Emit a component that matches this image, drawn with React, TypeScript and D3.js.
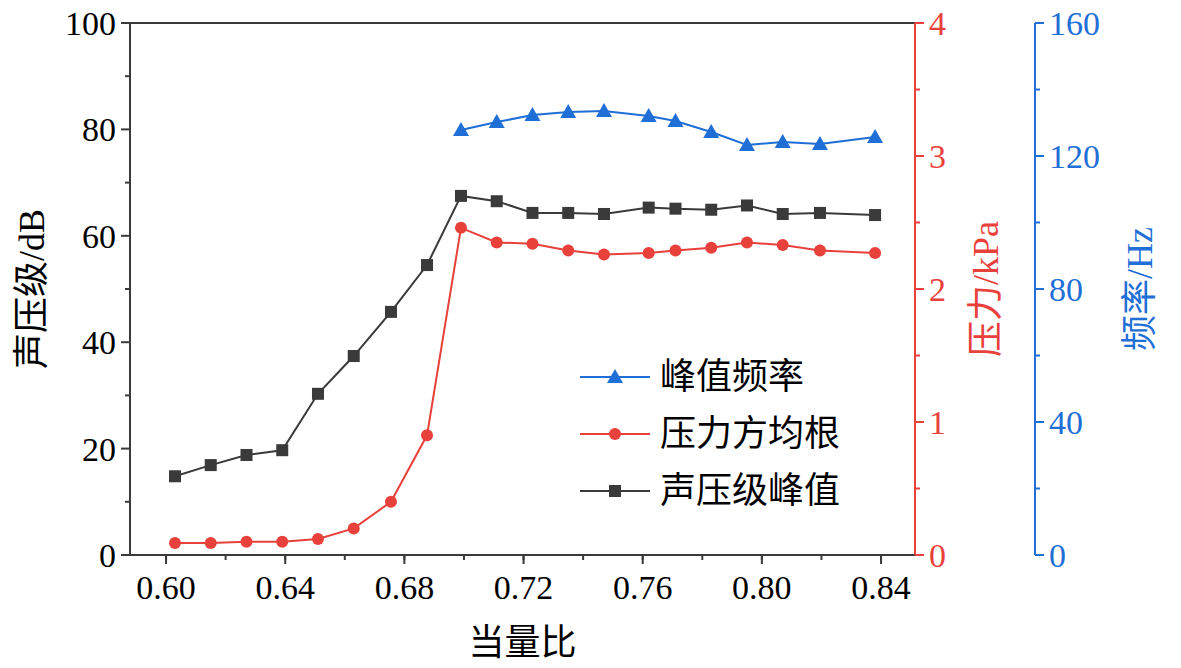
import * as d3 from 'd3';

const ratio = [0.603, 0.615, 0.627, 0.639, 0.651, 0.663, 0.6755, 0.6876, 0.699, 0.711, 0.723, 0.735, 0.747, 0.762, 0.771, 0.783, 0.795, 0.807, 0.8195, 0.838];
const splPeak = [14.8, 16.9, 18.8, 19.7, 30.3, 37.4, 45.7, 54.5, 67.5, 66.5, 64.3, 64.3, 64.1, 65.3, 65.1, 64.9, 65.7, 64.1, 64.3, 63.9];
const pressureRms = [0.09, 0.09, 0.1, 0.1, 0.12, 0.2, 0.4, 0.9, 2.46, 2.35, 2.34, 2.29, 2.26, 2.27, 2.29, 2.31, 2.35, 2.33, 2.29, 2.27];
const freqRatio = [0.699, 0.711, 0.723, 0.735, 0.747, 0.762, 0.771, 0.783, 0.795, 0.807, 0.8195, 0.838];
const peakFreq = [127.8, 130.2, 132.3, 133.2, 133.5, 132.0, 130.5, 127.2, 123.3, 124.2, 123.6, 125.7];
const xTicks = [0.6, 0.64, 0.68, 0.72, 0.76, 0.8, 0.84];

const BLACK = '#3a3a3a', RED = '#e8413c', BLUE = '#1f6fd6';
const font = '"Liberation Serif", "Noto Sans CJK SC", serif';

export default function App() {
  const L = 130, R = 915, T = 23, B = 555, BX = 1035;
  const x = d3.scaleLinear().domain([0.5879, 0.8514]).range([L, R]);
  const yL = d3.scaleLinear().domain([0, 100]).range([B, T]);
  const yR = d3.scaleLinear().domain([0, 4]).range([B, T]);
  const yB = d3.scaleLinear().domain([0, 160]).range([B, T]);
  const line = (xs: number[], ys: number[], sy: d3.ScaleLinear<number, number>) =>
    d3.line<number>().x((_, i) => x(xs[i])).y(d => sy(d))(ys) || '';
  const tri = (cx: number, cy: number) => `M${cx},${cy - 8}L${cx + 8},${cy + 6}L${cx - 8},${cy + 6}Z`;
  const legend = [
    { label: '峰值频率', c: BLUE, m: 'tri' },
    { label: '压力方均根', c: RED, m: 'circ' },
    { label: '声压级峰值', c: BLACK, m: 'sq' },
  ];
  const marker = (m: string, cx: number, cy: number, c: string, k: number) =>
    m === 'tri' ? <path key={k} d={tri(cx, cy)} fill={c} /> :
    m === 'circ' ? <circle key={k} cx={cx} cy={cy} r={6} fill={c} /> :
    <rect key={k} x={cx - 6} y={cy - 6} width={12} height={12} fill={c} />;
  return (
    <svg width={1181} height={668} style={{ display: 'block', margin: -8 }} fontFamily={font}>
      <rect width={1181} height={668} fill="#fff" />
      <rect x={L} y={T} width={R - L} height={B - T} fill="none" stroke={BLACK} strokeWidth={2} />
      {/* bottom axis */}
      {xTicks.map(t => (
        <g key={t}>
          <line x1={x(t)} x2={x(t)} y1={B} y2={B + 9} stroke={BLACK} strokeWidth={2} />
          <text x={x(t)} y={B + 44} fontSize={34} textAnchor="middle">{t.toFixed(2)}</text>
        </g>
      ))}
      {d3.range(0.6, 0.841, 0.02).map(t => <line key={t} x1={x(t)} x2={x(t)} y1={B} y2={B + 5} stroke={BLACK} strokeWidth={2} />)}
      <text x={(L + R) / 2} y={655} fontSize={36} textAnchor="middle">当量比</text>
      {/* left axis */}
      {d3.range(0, 101, 20).map(t => (
        <g key={t}>
          <line x1={L} x2={L - 9} y1={yL(t)} y2={yL(t)} stroke={BLACK} strokeWidth={2} />
          <text x={L - 14} y={yL(t) + 12} fontSize={34} textAnchor="end">{t}</text>
        </g>
      ))}
      {d3.range(10, 100, 20).map(t => <line key={t} x1={L} x2={L - 5} y1={yL(t)} y2={yL(t)} stroke={BLACK} strokeWidth={2} />)}
      <text transform={`translate(44,${(T + B) / 2}) rotate(-90)`} fontSize={36} textAnchor="middle">声压级/dB</text>
      {/* red axis */}
      <line x1={R} x2={R} y1={T} y2={B} stroke={RED} strokeWidth={2} />
      {d3.range(0, 4.01, 1).map(t => (
        <g key={t}>
          <line x1={R} x2={R + 9} y1={yR(t)} y2={yR(t)} stroke={RED} strokeWidth={2} />
          <text x={R + 14} y={yR(t) + 12} fontSize={34} fill={RED}>{t}</text>
        </g>
      ))}
      {d3.range(0.5, 4, 1).map(t => <line key={t} x1={R} x2={R + 5} y1={yR(t)} y2={yR(t)} stroke={RED} strokeWidth={2} />)}
      <text transform={`translate(998,${(T + B) / 2}) rotate(-90)`} fontSize={36} textAnchor="middle" fill={RED}>压力/kPa</text>
      {/* blue axis */}
      <line x1={BX} x2={BX} y1={T} y2={B} stroke={BLUE} strokeWidth={2} />
      {d3.range(0, 161, 40).map(t => (
        <g key={t}>
          <line x1={BX} x2={BX + 9} y1={yB(t)} y2={yB(t)} stroke={BLUE} strokeWidth={2} />
          <text x={BX + 14} y={yB(t) + 12} fontSize={34} fill={BLUE}>{t}</text>
        </g>
      ))}
      {d3.range(20, 160, 40).map(t => <line key={t} x1={BX} x2={BX + 5} y1={yB(t)} y2={yB(t)} stroke={BLUE} strokeWidth={2} />)}
      <text transform={`translate(1152,${(T + B) / 2}) rotate(-90)`} fontSize={36} textAnchor="middle" fill={BLUE}>频率/Hz</text>
      {/* series */}
      <path d={line(ratio, splPeak, yL)} fill="none" stroke={BLACK} strokeWidth={2} />
      {splPeak.map((v, i) => marker('sq', x(ratio[i]), yL(v), BLACK, i))}
      <path d={line(ratio, pressureRms, yR)} fill="none" stroke={RED} strokeWidth={2} />
      {pressureRms.map((v, i) => marker('circ', x(ratio[i]), yR(v), RED, i))}
      <path d={line(freqRatio, peakFreq, yB)} fill="none" stroke={BLUE} strokeWidth={2} />
      {peakFreq.map((v, i) => marker('tri', x(freqRatio[i]), yB(v), BLUE, i))}
      {/* legend */}
      {legend.map((d, i) => {
        const ly = 377 + i * 57;
        return (
          <g key={d.label}>
            <line x1={580} x2={650} y1={ly} y2={ly} stroke={d.c} strokeWidth={2} />
            {marker(d.m, 615, ly, d.c, 0)}
            <text x={660} y={ly + 12} fontSize={36}>{d.label}</text>
          </g>
        );
      })}
    </svg>
  );
}
